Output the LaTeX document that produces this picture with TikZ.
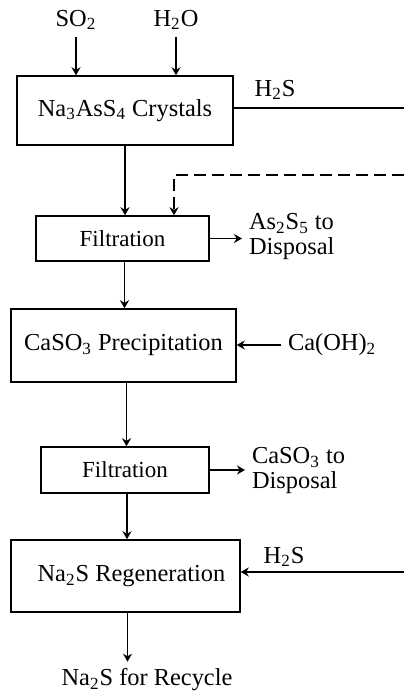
\documentclass[tikz,border=0pt]{standalone}
\usepackage{fontspec}
\setmainfont{Liberation Serif}
\usetikzlibrary{arrows.meta, positioning, calc}
\tikzset{
  procbox/.style={rectangle, draw=black, line width=0.75pt, align=center,
                  font=\fontsize{12.2}{13}\selectfont},
  lbl/.style={align=left, font=\fontsize{12.2}{12.5}\selectfont},
  arr/.style={-{Stealth[length=4pt, width=4.5pt]}, line width=0.7pt},
}
\begin{document}
\begin{tikzpicture}[x=0.5pt, y=-0.5pt]
  \useasboundingbox (0,0) rectangle (404,694);

  % Feeds
  \node[lbl] (so2) at (76,20) {SO\textsubscript{2}};
  \node[lbl] (h2o) at (176,20) {H\textsubscript{2}O};

  % Crystals
  \node[procbox, minimum width=108pt, minimum height=34.5pt] (cryst) at (125,110.5)
    {Na\textsubscript{3}AsS\textsubscript{4} Crystals};
  \node[lbl] (h2stop) at (275,90) {H\textsubscript{2}S};
  \coordinate (h2sout) at (404,108);

  % First filtration
  \node[procbox, font=\fontsize{11.5}{13}\selectfont, minimum width=86.5pt, minimum height=22.5pt]
    (filt1) at (122.5,238.5) {Filtration};
  \coordinate (dashin) at (404,175);
  \node[lbl, anchor=west] (as2s5) at (242,237) {As\textsubscript{2}S\textsubscript{5} to\\Disposal};

  % Precipitation
  \node[procbox, minimum width=112.5pt, minimum height=36.5pt] (precip) at (123.5,345.5)
    {CaSO\textsubscript{3} Precipitation};
  \node[lbl, anchor=west] (caoh) at (281,345) {Ca(OH)\textsubscript{2}};

  % Second filtration
  \node[procbox, font=\fontsize{11.5}{13}\selectfont, minimum width=84pt, minimum height=23pt]
    (filt2) at (125,470) {Filtration};
  \node[lbl, anchor=west] (caso3) at (245,471) {CaSO\textsubscript{3} to\\Disposal};

  % Regeneration
  \node[procbox, minimum width=114.5pt, minimum height=36pt] (regen) at (125.5,576)
    {\hspace*{6pt}Na\textsubscript{2}S Regeneration};
  \node[lbl] (h2sbot) at (284,557) {H\textsubscript{2}S};
  \coordinate (h2sin) at (404,572);
  \node[lbl] (recyc) at (147,680) {Na\textsubscript{2}S for Recycle};

  % Arrows
  \draw[arr] (so2.south) -- (so2.south |- cryst.north);
  \draw[arr] (h2o.south) -- (h2o.south |- cryst.north);
  \draw[line width=0.7pt] (cryst.east |- h2sout) -- (h2sout);
  \draw[arr] (cryst.south) -- (cryst.south |- filt1.north);
  \draw[arr, dash pattern=on 6pt off 3pt] (dashin) -| ([xshift=25.75pt]filt1.north);
  \draw[arr] (filt1.east) -- (filt1.east -| as2s5.west);
  \draw[arr] ([xshift=1pt]filt1.south) -- ([xshift=1pt]filt1.south |- precip.north);
  \draw[arr] (caoh.west) -- (caoh.west -| precip.east);
  \draw[arr] ([xshift=1.5pt]precip.south) -- ([xshift=1.5pt]precip.south |- filt2.north);
  \draw[arr] (filt2.east) -- (filt2.east -| caso3.west);
  \draw[arr] ([xshift=1pt]filt2.south) -- ([xshift=1pt]filt2.south |- regen.north);
  \draw[arr] (h2sin) -- (h2sin -| regen.east);
  \draw[arr] ([xshift=1pt]regen.south) -- ([xshift=1pt]regen.south |- recyc.north);
\end{tikzpicture}
\end{document}
